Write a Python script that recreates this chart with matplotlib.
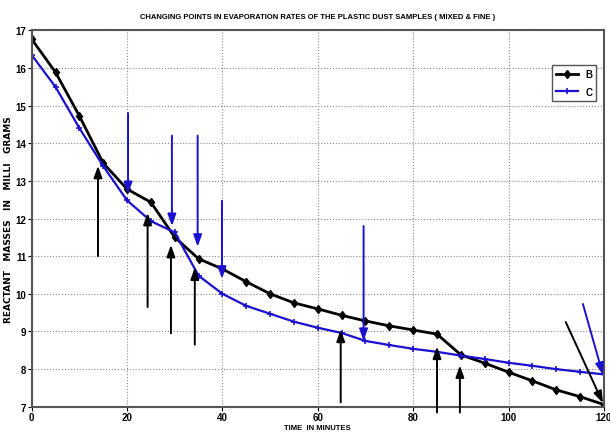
import matplotlib
matplotlib.use("Agg")
import matplotlib.pyplot as plt

# time in minutes and reactant masses (mg)
time_min = [0, 5, 10, 15, 20, 25, 30, 35, 40, 45, 50, 55, 60,
            65, 70, 75, 80, 85, 90, 95, 100, 105, 110, 115, 120]
mass_b = [16.76, 15.88, 14.72, 13.47, 12.78, 12.43, 11.5, 10.93, 10.66, 10.32, 10.0, 9.76, 9.6,
          9.43, 9.28, 9.15, 9.04, 8.93, 8.38, 8.16, 7.92, 7.69, 7.45, 7.27, 7.06]
mass_c = [16.34, 15.49, 14.4, 13.39, 12.48, 11.93, 11.63, 10.48, 10.0, 9.68, 9.47, 9.26, 9.1,
          8.96, 8.75, 8.64, 8.54, 8.46, 8.36, 8.27, 8.17, 8.09, 8.0, 7.93, 7.86]

# changing-point arrows: (x_tail, y_tail, x_head, y_head)
black_arrows = [(13.9, 11.0, 13.9, 13.4),
                (24.3, 9.65, 24.3, 12.15),
                (29.2, 8.95, 29.2, 11.3),
                (34.2, 8.65, 34.2, 10.7),
                (64.8, 7.12, 64.8, 9.05),
                (85.0, 6.85, 85.0, 8.6),
                (89.8, 6.85, 89.8, 8.1),
                (112.0, 9.25, 119.8, 7.1)]
blue_arrows = [(20.2, 14.8, 20.2, 12.65),
               (29.4, 14.2, 29.4, 11.8),
               (34.8, 14.2, 34.8, 11.25),
               (39.9, 12.47, 39.9, 10.4),
               (69.6, 11.8, 69.6, 8.75),
               (115.6, 9.73, 119.8, 7.85)]

plt.rcParams['font.family'] = ['Liberation Sans', 'DejaVu Sans']
plt.rcParams['font.weight'] = 'bold'

fig = plt.figure(figsize=(6.1, 4.39), dpi=100)
ax = fig.add_axes([0.052, 0.071, 0.938, 0.858])

ax.plot(time_min, mass_b, color='black', lw=2.0, marker='d', ms=4.5, label='B')
ax.plot(time_min, mass_c, color='#1a10d0', lw=1.6, marker='+', ms=5, mew=1.2, label='C')

for x0, y0, x1, y1 in black_arrows:
    ax.annotate('', xy=(x1, y1), xytext=(x0, y0), annotation_clip=False,
                arrowprops=dict(arrowstyle='-|>,head_length=0.7,head_width=0.25',
                                color='black', lw=1.4, shrinkA=0, shrinkB=0))
for x0, y0, x1, y1 in blue_arrows:
    ax.annotate('', xy=(x1, y1), xytext=(x0, y0), annotation_clip=False,
                arrowprops=dict(arrowstyle='-|>,head_length=0.7,head_width=0.25',
                                color='#1a10d0', lw=1.4, shrinkA=0, shrinkB=0))

ax.set_xlim(0, 120)
ax.set_ylim(7, 17)
ax.set_xticks(range(0, 121, 20))
ax.set_yticks(range(7, 18))
ax.grid(True, color='#888888', linestyle=':', lw=0.8)
ax.tick_params(labelsize=7, length=3, pad=1)
for s in ax.spines.values():
    s.set_color('#555555')
    s.set_linewidth(1.5)

ax.set_title('CHANGING POINTS IN EVAPORATION RATES OF THE PLASTIC DUST SAMPLES ( MIXED & FINE )',
             fontsize=5.5, fontweight='bold', pad=9)
ax.set_xlabel('TIME  IN MINUTES', fontsize=5.5, fontweight='bold', labelpad=1)
ax.set_ylabel('REACTANT   MASSES   IN   MILLI   GRAMS', family='DejaVu Sans',
              fontsize=6.5, fontweight='bold')
ax.yaxis.set_label_coords(-0.033, 0.5)

leg = ax.legend(loc='upper right', bbox_to_anchor=(0.995, 0.92), fontsize=7,
                handlelength=2.2, fancybox=False, framealpha=1, edgecolor='#555555',
                borderpad=0.4, labelspacing=0.8)

fig.savefig('out.png', dpi=100)
